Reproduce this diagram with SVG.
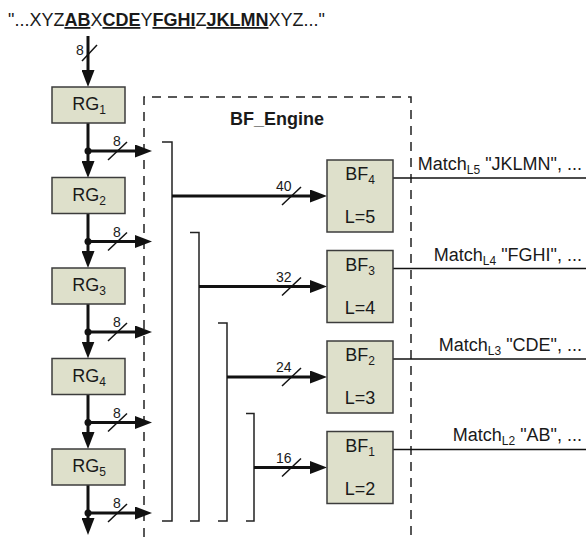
<svg xmlns="http://www.w3.org/2000/svg" width="586" height="537" viewBox="0 0 586 537">
<style>
text{font-family:"Liberation Sans",Arial,sans-serif;fill:#1a1a1a}
.t{font-size:18px}
.c{text-anchor:middle}
.r{text-anchor:end}
.s{font-size:12px}
.n{font-size:14px}
.b{font-weight:bold}
.u{font-weight:bold;text-decoration:underline}
.box{fill:#dee0cb;stroke:#3c3c3c;stroke-width:1.5}
.bus{stroke:#111;stroke-width:3;fill:none}
.thin{stroke:#111;stroke-width:1.5;fill:none}
.br{stroke:#222;stroke-width:1.5;fill:none}
.dash{stroke:#222;stroke-width:1.5;stroke-dasharray:9 7;fill:none}
.dot{fill:#111}
</style>
<defs>
<marker id="ah" markerUnits="userSpaceOnUse" markerWidth="18" markerHeight="13" refX="7" refY="6.5" orient="auto">
<path d="M0,0 L17,6.5 L0,13 z" fill="#111"/>
</marker>
</defs>
<rect width="586" height="537" fill="#fff"/>
<text class="t" x="8" y="26">"...XYZ<tspan class="u">AB</tspan>X<tspan class="u">CDE</tspan>Y<tspan class="u">FGHI</tspan>Z<tspan class="u">JKLMN</tspan>XYZ..."</text>
<g id="engine">
<path class="dash" d="M144,537 L144,97 L411,97 L411,537"/>
<text class="t b c" x="277" y="125">BF_Engine</text>
</g>
<g id="connectors">
<line class="bus" x1="88" y1="36" x2="88" y2="77" marker-end="url(#ah)"/>
<line class="thin" x1="82" y1="61" x2="97" y2="45"/>
<text class="n c" x="80" y="55">8</text>
<line class="bus" x1="88" y1="123" x2="88" y2="168" marker-end="url(#ah)"/>
<line class="bus" x1="88" y1="213.5" x2="88" y2="258" marker-end="url(#ah)"/>
<line class="bus" x1="88" y1="304" x2="88" y2="348.5" marker-end="url(#ah)"/>
<line class="bus" x1="88" y1="394.5" x2="88" y2="439" marker-end="url(#ah)"/>
<line class="bus" x1="88" y1="485" x2="88" y2="525" marker-end="url(#ah)"/>
<g id="taps">
<circle class="dot" cx="88" cy="151" r="3.5"/>
<line class="bus" x1="88" y1="151" x2="142" y2="151" marker-end="url(#ah)"/>
<line class="thin" x1="108" y1="160" x2="127" y2="142"/>
<text class="n c" x="117" y="146">8</text>
<circle class="dot" cx="88" cy="241.5" r="3.5"/>
<line class="bus" x1="88" y1="241.5" x2="142" y2="241.5" marker-end="url(#ah)"/>
<line class="thin" x1="108" y1="250.5" x2="127" y2="232.5"/>
<text class="n c" x="117" y="236.5">8</text>
<circle class="dot" cx="88" cy="332" r="3.5"/>
<line class="bus" x1="88" y1="332" x2="142" y2="332" marker-end="url(#ah)"/>
<line class="thin" x1="108" y1="341" x2="127" y2="323"/>
<text class="n c" x="117" y="327">8</text>
<circle class="dot" cx="88" cy="422.5" r="3.5"/>
<line class="bus" x1="88" y1="422.5" x2="142" y2="422.5" marker-end="url(#ah)"/>
<line class="thin" x1="108" y1="431.5" x2="127" y2="413.5"/>
<text class="n c" x="117" y="417.5">8</text>
<circle class="dot" cx="88" cy="513" r="3.5"/>
<line class="bus" x1="88" y1="513" x2="142" y2="513" marker-end="url(#ah)"/>
<line class="thin" x1="108" y1="522" x2="127" y2="504"/>
<text class="n c" x="117" y="508">8</text>
</g>
<g id="brackets">
<path class="br" d="M162,142 H172 V521 H162"/>
<path class="br" d="M190,232.5 H199 V521 H190"/>
<path class="br" d="M218,323 H227 V521 H218"/>
<path class="br" d="M246,413.5 H254 V521 H246"/>
</g>
<g id="buses">
<line class="bus" x1="172" y1="196" x2="317" y2="196" marker-end="url(#ah)"/>
<line class="thin" x1="282" y1="205" x2="301" y2="187"/>
<text class="n" x="276" y="191">40</text>
<line class="bus" x1="199" y1="286.5" x2="317" y2="286.5" marker-end="url(#ah)"/>
<line class="thin" x1="282" y1="295.5" x2="301" y2="277.5"/>
<text class="n" x="276" y="281.5">32</text>
<line class="bus" x1="227" y1="377" x2="317" y2="377" marker-end="url(#ah)"/>
<line class="thin" x1="282" y1="386" x2="301" y2="368"/>
<text class="n" x="276" y="372">24</text>
<line class="bus" x1="254" y1="467.5" x2="317" y2="467.5" marker-end="url(#ah)"/>
<line class="thin" x1="282" y1="476.5" x2="301" y2="458.5"/>
<text class="n" x="276" y="462.5">16</text>
</g>
<g id="outputs">
<line class="thin" x1="393" y1="178" x2="586" y2="178"/>
<text class="t r" x="582" y="170">Match<tspan class="s" dy="4">L5</tspan><tspan dy="-4"> "JKLMN", ...</tspan></text>
<line class="thin" x1="393" y1="268.5" x2="586" y2="268.5"/>
<text class="t r" x="582" y="261">Match<tspan class="s" dy="4">L4</tspan><tspan dy="-4"> "FGHI", ...</tspan></text>
<line class="thin" x1="393" y1="359" x2="586" y2="359"/>
<text class="t r" x="582" y="351">Match<tspan class="s" dy="4">L3</tspan><tspan dy="-4"> "CDE", ...</tspan></text>
<line class="thin" x1="393" y1="449.5" x2="586" y2="449.5"/>
<text class="t r" x="582" y="441">Match<tspan class="s" dy="4">L2</tspan><tspan dy="-4"> "AB", ...</tspan></text>
</g>
</g>
<g id="RG1"><rect class="box" x="52" y="87" width="73" height="36"/><text class="t c" x="89" y="110">RG<tspan class="s" dy="4">1</tspan></text></g>
<g id="RG2"><rect class="box" x="52" y="177.5" width="73" height="36"/><text class="t c" x="89" y="200.5">RG<tspan class="s" dy="4">2</tspan></text></g>
<g id="RG3"><rect class="box" x="52" y="268" width="73" height="36"/><text class="t c" x="89" y="291">RG<tspan class="s" dy="4">3</tspan></text></g>
<g id="RG4"><rect class="box" x="52" y="358.5" width="73" height="36"/><text class="t c" x="89" y="381.5">RG<tspan class="s" dy="4">4</tspan></text></g>
<g id="RG5"><rect class="box" x="52" y="449" width="73" height="36"/><text class="t c" x="89" y="472">RG<tspan class="s" dy="4">5</tspan></text></g>
<g id="BF4"><rect class="box" x="327" y="160" width="66" height="72"/><text class="t c" x="360" y="180">BF<tspan class="s" dy="4">4</tspan></text><text class="t c" x="360" y="223">L=5</text></g>
<g id="BF3"><rect class="box" x="327" y="250.5" width="66" height="72"/><text class="t c" x="360" y="270.5">BF<tspan class="s" dy="4">3</tspan></text><text class="t c" x="360" y="313.5">L=4</text></g>
<g id="BF2"><rect class="box" x="327" y="341" width="66" height="72"/><text class="t c" x="360" y="361">BF<tspan class="s" dy="4">2</tspan></text><text class="t c" x="360" y="404">L=3</text></g>
<g id="BF1"><rect class="box" x="327" y="431.5" width="66" height="72"/><text class="t c" x="360" y="451.5">BF<tspan class="s" dy="4">1</tspan></text><text class="t c" x="360" y="494.5">L=2</text></g>
</svg>
